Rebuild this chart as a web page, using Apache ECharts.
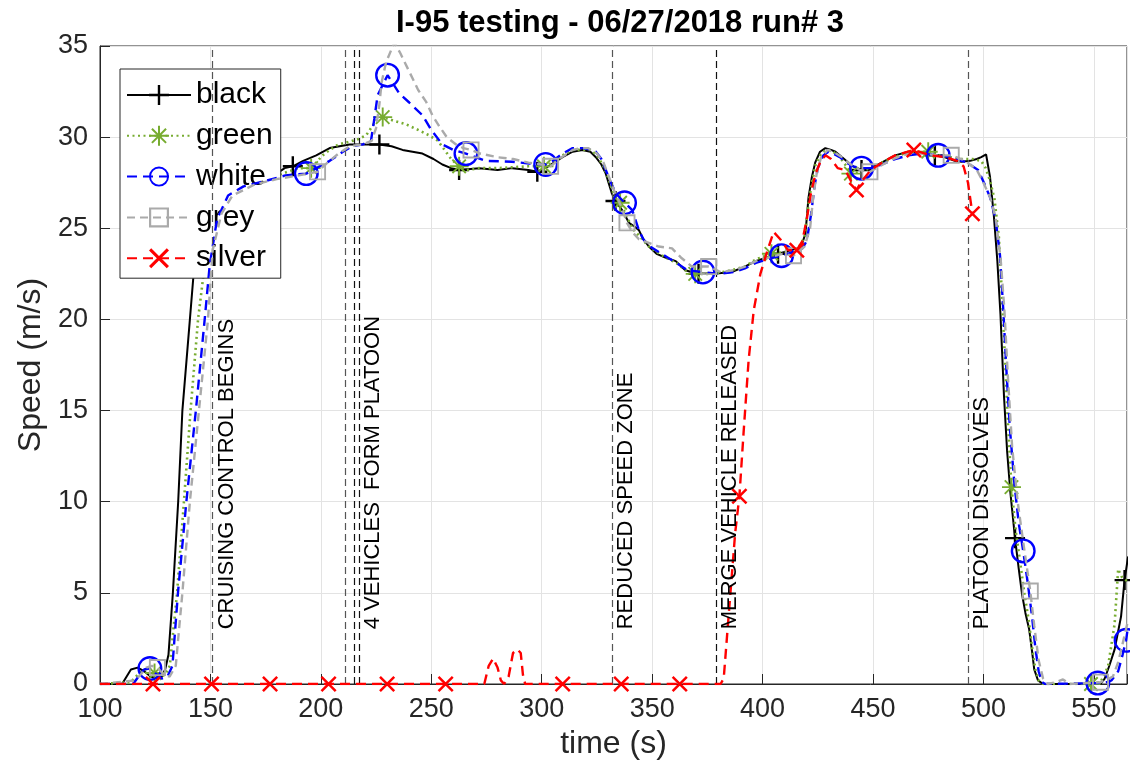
<!DOCTYPE html>
<html>
<head>
<meta charset="utf-8">
<title>I-95 testing - 06/27/2018 run# 3</title>
<script src="https://cdn.jsdelivr.net/npm/echarts@6/dist/echarts.min.js"></script>
<style>
  html, body { margin: 0; padding: 0; background: #fff; }
  #chart { width: 1130px; height: 779px; }
</style>
</head>
<body>
<div id="chart"></div>
<script>
// ---- speed traces: [time (s), speed (m/s)] ----
const black = [
  [100,0],[110,0],[112,0.4],[114,0.8],[117,0.9],[120,0.7],[123,0.4],[126,0.3],[128,0.4],[129.5,0.8],
  [131,1.6],[133,5],[135.4,10],[137.3,15],[140.7,20],[143.4,24],[145.5,26.2],[148,27.2],[151,27.6],[160,27.8],
  [170,27.9],[180,28.0],[183.6,28.3],[187.3,28.4],[192,28.7],[197.9,29.0],[204,29.4],[213,29.6],[220,29.6],[226.5,29.6],
  [232,29.5],[237,29.3],[246,29.1],[251,28.8],[255,28.5],[259,28.3],[262.6,28.2],[271.7,28.3],[280,28.2],[286.7,28.3],
  [294,28.2],[298,28.1],[303,28.4],[309.4,28.9],[314,29.2],[318.4,29.3],[322,29.2],[324.5,28.9],[327,28.5],[329,28.0],
  [331.8,26.9],[333.4,26.5],[336.4,26.0],[339.5,25.3],[342,25.1],[344,24.9],[346,24.4],[348.5,24.0],[352,23.6],[356,23.4],
  [360.7,23.2],[365,22.7],[371,22.5],[378,22.5],[386,22.6],[392,22.9],[396.8,23.2],[402,23.4],[407,23.6],[413,23.8],
  [416,23.9],[418,24.2],[419.4,24.7],[420.8,26.7],[422.3,27.8],[423.8,28.6],[426,29.2],[428.4,29.4],[431,29.3],[433,29.2],
  [436,28.9],[438.9,28.6],[441,28.4],[444.8,28.2],[449,28.3],[453.9,28.6],[460,29.0],[466,29.2],[473.6,29.1],[478,29.0],
  [482.6,28.9],[487,28.7],[490,28.65],[494,28.7],[497,28.8],[499,28.9],[501.2,29.05],[503,27.8],[504.7,25.7],[506.3,23.2],
  [507.7,20.3],[509.3,15.8],[510.7,12.8],[512.2,10.5],[514.3,8.0],[516,6.3],[517.5,4.9],[519,3.9],[520.7,3.0],[522,1.8],
  [523,0.8],[524.7,0.2],[527,0],[540,0],[553,0],[554.9,0.3],[557,1.0],[559.4,1.9],[562.3,3.7],[563.9,5.7],[565.5,7.0]
];
const blackMarks = [151, 187.3, 226.5, 262.6, 298, 333.4, 371, 407, 444.8, 478, 514.3, 563.9];

const green = [
  [100,0],[114,0.1],[117,0.5],[119,0.7],[122,0.9],[124.7,0.6],[127,0.4],[129.5,0.5],[131.6,1.0],[134.9,5],
  [138,10],[141,15],[144.4,20],[148.2,23.8],[151,26.0],[155,27.2],[160,27.6],[170,27.8],[180,27.9],[185,28.1],
  [190,28.3],[195.6,28.3],[200.8,29.0],[204,29.3],[208,29.6],[213,29.75],[217,29.9],[220.5,30.1],[225,30.9],[228,31.1],
  [233,30.9],[238.6,30.7],[244,30.4],[249,30.1],[253,29.8],[256.6,29.2],[259,28.8],[262.6,28.4],[266,28.2],[271.7,28.3],
  [280,28.3],[287,28.35],[294,28.4],[301,28.4],[305,28.6],[309.4,29.0],[314,29.3],[318.4,29.3],[322,29.3],[325,29.0],
  [328,28.4],[330,27.8],[332.5,26.9],[335.5,26.4],[338,25.8],[341,25.0],[344,24.6],[348.5,24.0],[352,23.7],[356,23.4],
  [361,23.1],[365,22.7],[369.5,22.5],[378,22.5],[386,22.7],[392,22.9],[397,23.3],[404,23.6],[410,23.7],[416,23.9],
  [419,24.5],[421,26.5],[422.5,27.6],[424,28.5],[426.5,29.1],[429,29.3],[432,29.2],[435,28.9],[438,28.4],[440,28.0],
  [444,28.1],[449,28.3],[454,28.6],[460,28.9],[466,29.2],[470,29.2],[475,29.2],[480,29.0],[485,28.9],[490,28.8],
  [495,28.8],[499,28.7],[501,28.3],[503,27.6],[505,26.6],[507,24.5],[508.3,21.5],[509.5,18.5],[511,14.5],[512.7,10.8],
  [514.5,8.5],[516.5,6.8],[518.5,5.0],[520.5,3.5],[522,2.0],[523.5,0.8],[525,0.2],[527,0],[548.7,0],[553,0.1],
  [556.4,0.95],[559.4,3.3],[561,6.3],[562.5,5.9],[565.5,5.6]
];
const greenMarks = [124.7, 160, 195.6, 228, 262.6, 301, 335.5, 369.5, 404, 440, 475, 512.7, 548.7];

const white = [
  [100,0],[115,0],[118,0.5],[120,0.8],[122.6,0.85],[125,0.6],[128,0.3],[130.5,0.4],[132.8,1.0],[135.3,5],
  [139.1,10],[143.4,15],[147.4,20],[149.7,23],[153,25.5],[158,26.8],[165,27.3],[175,27.6],[184,27.9],[193.4,28.0],
  [198,28.3],[204,28.7],[210,29.2],[214.3,29.5],[219,29.6],[222.7,29.8],[224.2,31.0],[225.7,32.3],[230.2,33.4],[235.5,32.4],
  [240,31.9],[246,31.2],[250,30.4],[255,29.6],[260,29.3],[265.7,29.1],[270,28.9],[274.7,28.7],[286.6,28.65],[294.3,28.55],
  [301.8,28.5],[305,28.7],[309.4,29.1],[314,29.4],[318.4,29.4],[321,29.35],[324.5,29.2],[327,28.8],[329,28.2],[331,27.6],
  [333.6,26.9],[337.5,26.4],[341,26.0],[344,24.9],[346,24.4],[349,24.0],[353,23.7],[357,23.4],[361,23.1],[366,22.7],
  [373,22.6],[380,22.5],[387,22.6],[392,22.8],[397,23.1],[402,23.3],[408.6,23.5],[414,23.7],[418,23.9],[420,24.3],
  [422,25.8],[423.5,27.3],[425,28.3],[427.5,29.0],[429.8,29.2],[432,29.1],[435,28.9],[438,28.6],[441,28.4],[444.8,28.3],
  [449,28.3],[454,28.5],[460,28.8],[466,29.0],[472,29.1],[479.5,29.0],[485,28.9],[490,28.7],[493,28.6],[495,28.4],
  [497.6,28.2],[500.6,27.4],[503,26.7],[505.5,25.5],[507.5,23.5],[509,20.5],[510.5,17.0],[512,14.0],[514,11.0],[516,8.8],
  [518,7.3],[520,5.6],[522,3.7],[523.5,2.0],[525,0.7],[526.5,0.1],[528,0],[551.8,0.05],[556,0.1],[558,0.2],
  [561,0.7],[563,1.6],[564.6,2.4],[565.5,3.2]
];
const whiteMarks = [122.6, 193.4, 230.2, 265.7, 301.8, 337.5, 373, 408.6, 444.8, 479.5, 518, 551.8, 564.6];

const grey = [
  [100,0],[116,0.2],[119,0.6],[121,0.9],[123.5,1.0],[126,0.9],[129,0.5],[131.5,0.4],[134.3,1.0],[137.3,5],
  [140.7,10],[144.8,15],[148.9,20],[151,23.8],[155,25.8],[160,26.8],[170,27.4],[180,27.7],[190,27.9],[198.5,28.1],
  [203,28.6],[208,29.1],[213,29.5],[219,29.6],[223,29.8],[225,30.5],[226.5,31.8],[227.5,33.0],[229.5,34.1],[233.3,35.2],
  [236,34.6],[240,33.6],[244,32.6],[247.6,31.95],[250.5,31.2],[253.6,30.6],[257,30.0],[261.2,29.6],[264.5,29.4],[268,29.3],
  [272,29.1],[280,28.9],[287,28.8],[294,28.6],[300,28.5],[304,28.4],[309,28.9],[314,29.3],[318,29.4],[321,29.4],
  [325,29.1],[328,28.6],[330.5,27.8],[333,27.0],[336,26.2],[338.6,25.3],[341,24.8],[344,24.4],[348.5,24.2],[353,24.0],
  [359,23.9],[363,23.4],[368,22.9],[375.6,22.9],[381,22.6],[387,22.7],[392,22.9],[397,23.2],[403,23.4],[409,23.6],
  [414,23.5],[419,24.0],[421.5,25.0],[423,26.8],[424.5,28.0],[426.5,28.9],[429.5,29.3],[432,29.2],[436,28.9],[440,28.5],
  [444,28.2],[448.6,28.1],[453,28.4],[459,28.8],[466,29.1],[473,29.1],[479,29.0],[485.4,29.0],[490,28.8],[494,28.5],
  [497,28.2],[500,27.5],[503,26.7],[505.5,25.6],[507.8,23.3],[509.5,20.5],[511,17.0],[513,13.0],[515.5,10.0],[518,7.8],
  [521.2,5.1],[523,3.2],[525,1.3],[527,0.3],[529,0],[533,0.1],[536,0.25],[539,0],[553,0.1],[558.6,0.4],
  [561,1.2],[563,2.2],[565.5,3.5]
];
const greyMarks = [126, 198.5, 268, 304, 338.6, 375.6, 414, 448.6, 485.4, 521.2, 553];

const silver = [
  [100,0],[124,0],[150.5,0],[177,0],[203.5,0],[230,0],[256.5,0],[274,0],[276,1.0],[278,1.4],
  [280,0.9],[281.5,0.2],[283,0],[285,0.4],[287,1.7],[289,1.9],[290.5,1.7],[291.5,0.5],[292.5,0],[309.5,0],
  [336,0],[362.5,0],[381,0],[382.4,0.3],[384.6,3.7],[387.6,8.3],[389.5,10.3],[391.4,13.8],[393.7,17.8],[396,20.5],
  [399,22.5],[402,23.7],[405,24.8],[408,24.4],[411.5,23.8],[415.5,23.8],[418,24.3],[420,25.5],[422,27.0],[424,28.0],
  [426,28.6],[428.5,29.0],[431,28.8],[434,28.3],[437.4,28.2],[440,27.6],[442.5,27.1],[445,27.6],[449,28.2],[454,28.6],
  [460,29.0],[468.5,29.3],[476,29.0],[483,28.9],[488,28.7],[491,28.4],[493,27.5],[495,25.8]
];
const silverMarks = [124, 150.5, 177, 203.5, 230, 256.5, 309.5, 336, 362.5, 389.5, 415.5, 442.5, 468.5, 495];

// ---- events marked on the time axis ----
const eventTimes  = [151, 211.2, 215.2, 217.2, 331.8, 379.1, 493.1];
const eventLabels = ['CRUISING CONTROL BEGINS', '', '', '4 VEHICLES  FORM PLATOON',
                     'REDUCED SPEED ZONE', 'MERGE VEHICLE RELEASED', 'PLATOON DISSOLVES'];

// ---- axis ticks ----
const xTicks = [100, 150, 200, 250, 300, 350, 400, 450, 500, 550];
const yTicks = [0, 5, 10, 15, 20, 25, 30, 35];

// ---- styling ----
const FONT = "'Liberation Sans', Arial, Helvetica, sans-serif";
const AXIS = '#262626';
const eventLineColors = ['#555555', '#555555', '#111111', '#111111', '#555555', '#111111', '#555555'];

// marker shapes (outlined glyphs as filled paths)
const SYM = {
  plus: 'path://M-1.2,-10L1.2,-10L1.2,-1.2L10,-1.2L10,1.2L1.2,1.2L1.2,10L-1.2,10L-1.2,1.2L-10,1.2L-10,-1.2L-1.2,-1.2Z',
  star: 'path://M-10,-1L10,-1L10,1L-10,1ZM-1,-10L1,-10L1,10L-1,10Z' +
        'M-6.36,-7.78L7.78,6.36L6.36,7.78L-7.78,-6.36ZM6.36,-7.78L7.78,-6.36L-6.36,7.78L-7.78,6.36Z',
  ring: 'path://M0,-10A10,10,0,1,1,0,10A10,10,0,1,1,0,-10ZM0,-8.1A8.1,8.1,0,1,0,0,8.1A8.1,8.1,0,1,0,0,-8.1Z',
  square: 'path://M-10,-10L10,-10L10,10L-10,10ZM-7.8,-7.8L-7.8,7.8L7.8,7.8L7.8,-7.8Z',
  cross: 'path://M-7.44,-9.56L9.56,7.44L7.44,9.56L-9.56,-7.44ZM7.44,-9.56L9.56,-7.44L-7.44,9.56L-9.56,7.44Z'
};

const traces = [
  { name: 'black',  data: black,  marks: blackMarks,  color: '#000000', type: 'solid',  width: 2,   symbol: SYM.plus,   size: 20 },
  { name: 'green',  data: green,  marks: greenMarks,  color: '#77AC30', type: [2, 3.5], width: 2.6, symbol: SYM.star,   size: 19 },
  { name: 'white',  data: white,  marks: whiteMarks,  color: '#0000FF', type: [10, 6],  width: 2.4, symbol: SYM.ring,   size: 25 },
  { name: 'grey',   data: grey,   marks: greyMarks,   color: '#AAAAAA', type: [8, 5],   width: 2.4, symbol: SYM.square, size: 17 },
  { name: 'silver', data: silver, marks: silverMarks, color: '#FF0000', type: [10, 6],  width: 2.4, symbol: SYM.cross,  size: 16 }
];

function seriesData(points, marks) {
  const set = new Set(marks);
  return points.map(p => set.has(p[0]) ? { value: p } : { value: p, symbol: 'none' });
}

const series = traces.map((tr, i) => {
  const s = {
    name: tr.name,
    type: 'line',
    data: seriesData(tr.data, tr.marks),
    symbol: tr.symbol,
    symbolSize: tr.size,
    showSymbol: true,
    clip: true,
    silent: true,
    z: 2 + i,
    lineStyle: { color: tr.color, width: tr.width, type: tr.type, cap: 'butt' },
    itemStyle: { color: tr.color },
    emphasis: { disabled: true }
  };
  if (i === 0) {
    s.markLine = {
      silent: true,
      symbol: ['none', 'none'],
      label: { show: false },
      animation: false,
      data: eventTimes.map((t, k) => ({
        xAxis: t,
        lineStyle: { color: eventLineColors[k], width: 1.2, type: [7, 4] }
      }))
    };
  }
  return s;
});

const chart = echarts.init(document.getElementById('chart'), null, { renderer: 'canvas' });

chart.setOption({
  animation: false,
  backgroundColor: '#ffffff',
  textStyle: { fontFamily: FONT },
  title: {
    text: 'I-95 testing - 06/27/2018 run# 3',
    left: 615,
    textAlign: 'center',
    top: 3,
    textStyle: { fontFamily: FONT, fontSize: 31, fontWeight: 'bold', color: '#000000' }
  },
  grid: {
    left: 100, right: -1, top: 46, bottom: 95,
    show: true, borderColor: AXIS, borderWidth: 1, backgroundColor: 'transparent'
  },
  legend: {
    data: traces.map(t => t.name),
    orient: 'vertical',
    left: 120, top: 69,
    padding: [11, 8, 5, 6],
    itemWidth: 64, itemHeight: 25, itemGap: 10.8, itemTextGap: 10,
    backgroundColor: '#ffffff',
    borderColor: AXIS, borderWidth: 1,
    selectedMode: false,
    textStyle: { fontFamily: FONT, fontSize: 30, color: '#000000', lineHeight: 30 }
  },
  xAxis: {
    type: 'value',
    min: xTicks[0], max: 565, interval: 50,
    name: 'time (s)', nameLocation: 'middle', nameGap: 42,
    nameTextStyle: { fontFamily: FONT, fontSize: 32, color: AXIS },
    axisLine: { lineStyle: { color: AXIS, width: 1 } },
    axisTick: { inside: true, length: 10, lineStyle: { color: AXIS } },
    axisLabel: {
      margin: 12, fontFamily: FONT, fontSize: 27, color: AXIS,
      formatter: v => (xTicks.indexOf(v) >= 0 ? String(v) : '')
    },
    splitLine: { show: true, lineStyle: { color: '#e3e3e3', width: 1 } }
  },
  yAxis: {
    type: 'value',
    min: yTicks[0], max: yTicks[yTicks.length - 1], interval: 5,
    name: 'Speed (m/s)', nameLocation: 'middle', nameGap: 52,
    nameTextStyle: { fontFamily: FONT, fontSize: 32, color: AXIS },
    axisLine: { show: true, lineStyle: { color: AXIS, width: 1 } },
    axisTick: { show: true, inside: true, length: 10, lineStyle: { color: AXIS } },
    axisLabel: { margin: 12, fontFamily: FONT, fontSize: 27, color: AXIS },
    splitLine: { show: true, lineStyle: { color: '#e3e3e3', width: 1 } }
  },
  series: series
});

// rotated event captions, placed beside each event line through the axis scales
const captionY = chart.convertToPixel({ gridIndex: 0 }, [xTicks[0], 3])[1];
const captions = [];
eventTimes.forEach((t, k) => {
  if (!eventLabels[k]) return;
  const x = chart.convertToPixel({ xAxisIndex: 0 }, t);
  captions.push({
    type: 'text',
    x: x + 3,
    y: captionY,
    rotation: Math.PI / 2,
    z: 50,
    silent: true,
    style: {
      text: eventLabels[k],
      fill: '#000000',
      font: '22px ' + FONT,
      textAlign: 'left',
      textVerticalAlign: 'top',
      verticalAlign: 'top',
      align: 'left'
    }
  });
});
chart.setOption({ graphic: captions });
</script>
</body>
</html>
